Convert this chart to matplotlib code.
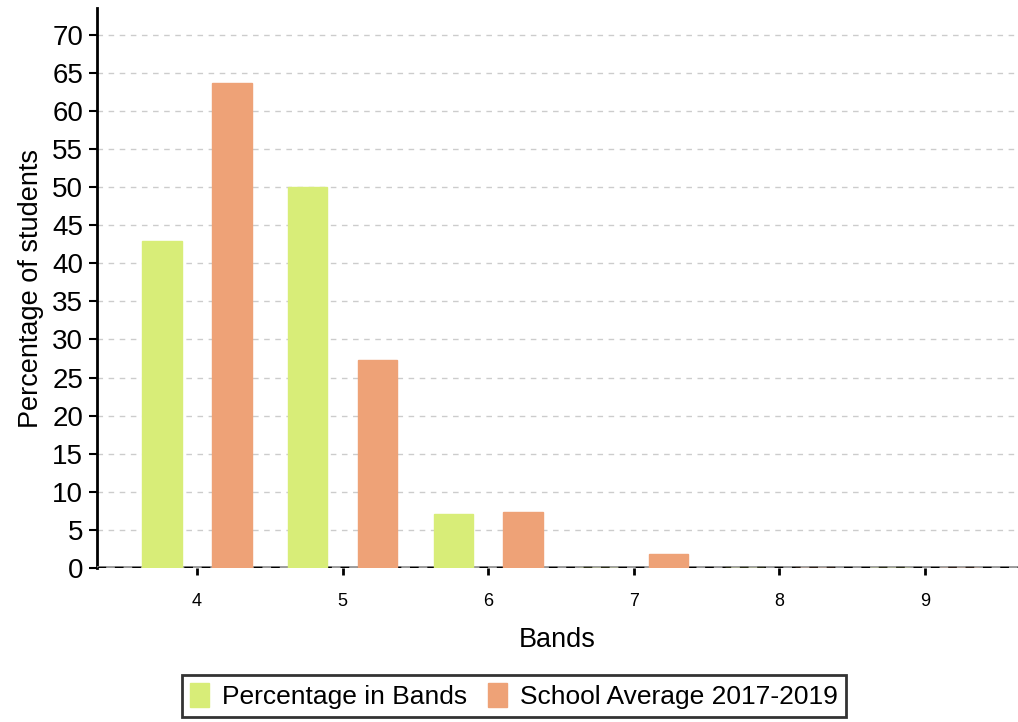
import matplotlib.pyplot as plt
import numpy as np

plt.rcParams['font.family'] = ['Liberation Sans', 'DejaVu Sans']

bands = ['4', '5', '6', '7', '8', '9']
pct_in_bands = [42.86, 50.0, 7.14, 0, 0, 0]
school_avg = [63.6, 27.3, 7.3, 1.8, 0, 0]
series_names = ['Percentage in Bands', 'School Average 2017-2019']

green = '#d8ed78'
orange = '#eea277'

fig = plt.figure(figsize=(10.18, 7.22), dpi=100)
ax = fig.add_axes([97/1018, 1 - 568/722, 1 - 97/1018, (568 - 8)/722])

x = np.arange(len(bands))
w = 0.27
b1 = ax.bar(x - 0.24, pct_in_bands, w, color=green, edgecolor=green, linewidth=1, label=series_names[0], zorder=6)
b2 = ax.bar(x + 0.24, school_avg, w, color=orange, edgecolor=orange, linewidth=1, label=series_names[1], zorder=6)

ax.set_xlim(-0.687, 5.64)
ax.set_ylim(0, 73.5)
ax.set_yticks(np.arange(0, 71, 5))
ax.set_xticks(x)
ax.set_xticklabels(bands, fontsize=13)
ax.tick_params(axis='y', labelsize=20, length=6, width=1.5, direction='out', pad=4)
ax.tick_params(axis='x', length=5, width=2, direction='out', pad=13)

ax.grid(axis='y', color='#cccccc', linestyle=(0, (4, 4)), linewidth=1, zorder=0)
ax.axhline(0, color='#999999', linewidth=3.5, zorder=4)
ax.axhline(0, color='black', linestyle=(0, (2.5, 2.5)), linewidth=2.5, zorder=5)

for s in ['top', 'right', 'bottom']:
    ax.spines[s].set_visible(False)
ax.spines['left'].set_linewidth(2)

ax.set_xlabel('Bands', fontsize=19.5, labelpad=12)
ax.set_ylabel('Percentage of students', fontsize=19.5, labelpad=6)

leg = fig.legend(handles=[b1, b2], loc='center', bbox_to_anchor=(514/1018, 1 - 696/722),
                 ncol=2, fontsize=19, frameon=True, fancybox=False, handlelength=0.7,
                 handleheight=1.0, handletextpad=0.5, columnspacing=0.8, borderpad=0.3)
leg.get_frame().set_edgecolor('black')
leg.get_frame().set_linewidth(2)

fig.savefig('out.png', dpi=100)
